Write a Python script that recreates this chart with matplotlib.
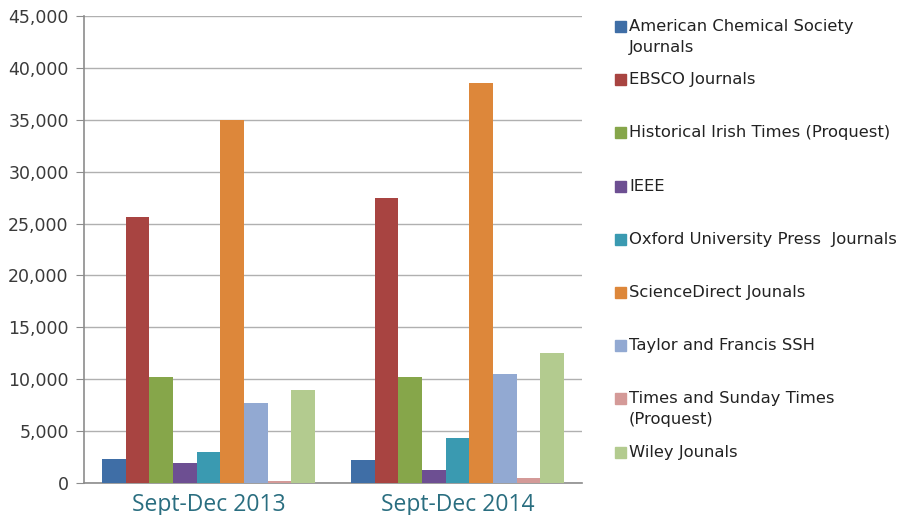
import matplotlib
matplotlib.use("Agg")
import matplotlib.pyplot as plt
import numpy as np
from matplotlib.ticker import FuncFormatter
from matplotlib.patches import Rectangle

categories = ["Sept-Dec 2013", "Sept-Dec 2014"]
series_names = [
    "American Chemical Society\nJournals",
    "EBSCO Journals",
    "Historical Irish Times (Proquest)",
    "IEEE",
    "Oxford University Press  Journals",
    "ScienceDirect Jounals",
    "Taylor and Francis SSH",
    "Times and Sunday Times\n(Proquest)",
    "Wiley Jounals",
]
values_2013 = [2340, 25650, 10190, 1930, 2960, 35000, 7740, 150, 8990]
values_2014 = [2220, 27450, 10190, 1290, 4370, 38580, 10540, 520, 12550]
colors = ["#3f6ea6", "#a84441", "#86a64a", "#6d4f92", "#3a9ab1",
          "#dd873a", "#92a9d2", "#d49a98", "#b3cb8f"]
y_ticks = [0, 5000, 10000, 15000, 20000, 25000, 30000, 35000, 40000, 45000]

W, H = 901, 515
fig = plt.figure(figsize=(W / 100, H / 100), dpi=100)
ax = fig.add_axes([84 / W, 1 - 483 / H, (582 - 84) / W, (483 - 16) / H])

n = len(series_names)
group_w = 0.855
bw = group_w / n
x = np.arange(len(categories))
for i, name in enumerate(series_names):
    vals = [values_2013[i], values_2014[i]]
    ax.bar(x - group_w / 2 + bw * (i + 0.5), vals, width=bw, color=colors[i],
           edgecolor="none", zorder=3)

ax.set_xlim(-0.5, len(categories) - 0.5)
ax.set_ylim(0, 45000)
ax.set_yticks(y_ticks)
ax.yaxis.set_major_formatter(FuncFormatter(lambda v, p: f"{int(v):,}"))
ax.grid(axis="y", color="#b0b0b0", linewidth=1.0, zorder=0)
for s in ["top", "right"]:
    ax.spines[s].set_visible(False)
ax.spines["left"].set_color("#8c8c8c")
ax.spines["bottom"].set_color("#8c8c8c")
ax.spines["left"].set_linewidth(1.2)
ax.spines["bottom"].set_linewidth(1.2)
ax.tick_params(axis="y", length=6, color="#8c8c8c", labelsize=12.5,
               labelcolor="#3a3a3a", pad=5)
ax.tick_params(axis="x", length=0, pad=7)
ax.set_xticks(x)
ax.set_xticklabels(categories, fontsize=16.5, color="#2a6e80", family="Open Sans")

# legend drawn manually
y0 = 26.5
step = 53.2
line_h = 21
for i, (name, c) in enumerate(zip(series_names, colors)):
    yc = y0 + i * step
    fig.patches.append(Rectangle((615 / W, 1 - (yc + 5.5) / H), 11 / W, 11 / H,
                                 transform=fig.transFigure, color=c))
    for k, line in enumerate(name.split("\n")):
        fig.text(629 / W, 1 - (yc + k * line_h) / H, line, fontsize=11.8,
                 color="#222222", va="center", ha="left")

fig.savefig("out.png", dpi=100, facecolor="white")
